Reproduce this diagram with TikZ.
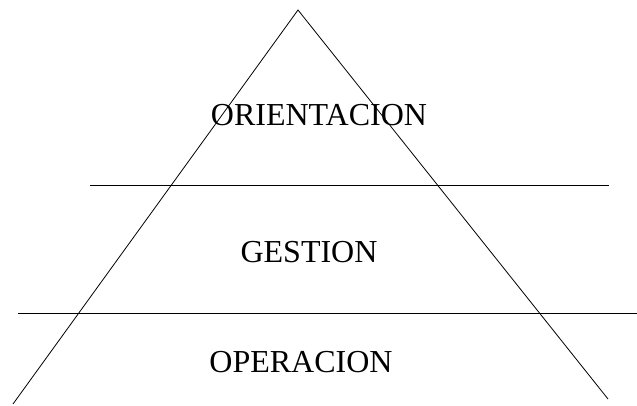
\documentclass[tikz,border=0pt]{standalone}
\usepackage{fontspec}
\setmainfont{Liberation Serif}
\usepackage{tikz}

\tikzset{
  level/.style={font=\fontsize{32}{38}\selectfont, anchor=base, inner sep=0pt},
  rule/.style={line width=0.8pt}
}

\begin{document}
\begin{tikzpicture}[x=1pt,y=-1pt]

        \useasboundingbox (0,0) rectangle (637,405);

        \coordinate (apex) at (298,10);
        \coordinate (bl) at (13,404);
        \coordinate (br) at (608,399);
        \draw[rule] (bl) -- (apex) -- (br);

        \coordinate (upL) at (90,185.5);
        \coordinate (upR) at (609,185.5);
        \coordinate (loL) at (18,313);
        \coordinate (loR) at (637,313);
        \draw[rule] (upL) -- (upR);
        \draw[rule] (loL) -- (loR);

        \node[level] (orient) at (319,125) {ORIENTACION};
        \node[level] (gest) at (309,262) {GESTION};
        \node[level] (oper) at (301,372.5) {OPERACION};

        \end{tikzpicture}
\end{document}
